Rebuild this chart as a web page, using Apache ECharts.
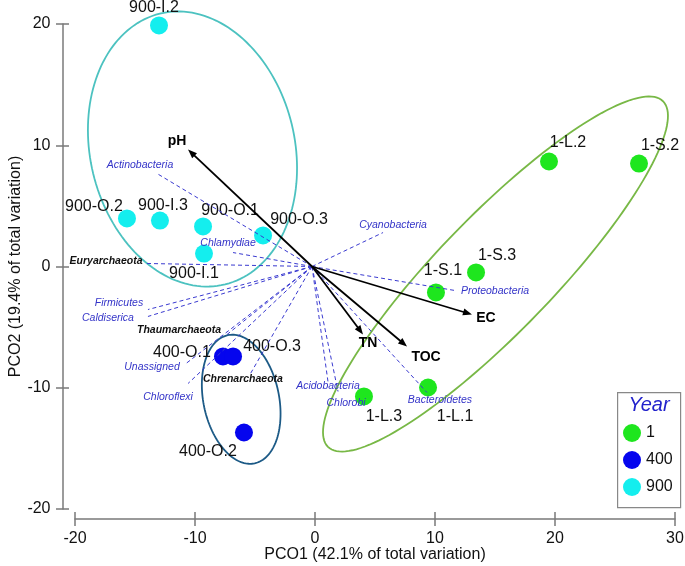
<!DOCTYPE html>
<html><head><meta charset="utf-8">
<script src="https://cdn.jsdelivr.net/npm/echarts@6/dist/echarts.min.js"></script>
<style>html,body{margin:0;padding:0;background:#fff}#c{width:685px;height:566px}</style>
</head><body><div id="c"></div>
<script>
// ---------- data ----------
const year1Names = ['1-S.1','1-S.2','1-S.3','1-L.1','1-L.2','1-L.3'];
const year1X = [10.08, 27.0, 13.42, 9.42, 19.5, 4.08];
const year1Y = [-2.14, 8.49, -0.49, -9.98, 8.66, -10.72];

const year400Names = ['400-O.1','400-O.2','400-O.3'];
const year400X = [-7.67, -5.92, -6.83];
const year400Y = [-7.42, -13.69, -7.42];

const year900Names = ['900-O.1','900-O.2','900-O.3','900-I.1','900-I.2','900-I.3'];
const year900X = [-9.33, -15.67, -4.33, -9.25, -13.0, -12.92];
const year900Y = [3.30, 3.96, 2.56, 1.07, 19.88, 3.79];

const vectorOrigin = [-0.25, 0];
const envNames = ['pH','EC','TN','TOC'];
const envX = [-10.58, 13.08, 4.0, 7.67];
const envY = [9.65, -3.96, -5.6, -6.6];

const taxaNames = ['Actinobacteria','Chlamydiae','Euryarchaeota','Firmicutes','Caldiserica','Thaumarchaeota','Unassigned','Chloroflexi','Chrenarchaeota','Acidobacteria','Chlorobi','Bacteroidetes','Proteobacteria','Cyanobacteria'];
const taxaX = [-13.17, -6.83, -14.08, -13.92, -13.92, -7.33, -10.75, -10.58, -5.42, 1.08, 1.92, 9.33, 11.67, 5.67];
const taxaY = [7.67, 1.15, 0.25, -3.55, -4.12, -5.61, -8.0, -9.65, -8.91, -9.48, -10.31, -10.39, -1.98, 2.80];
const archaeaTaxa = ['Euryarchaeota','Thaumarchaeota','Chrenarchaeota'];

// group ellipses (centre, semi-axes in data units, angle in degrees)
const ellipseYears = ['1','400','900'];
const ellipseCX = [15.04, -6.15, -10.21];
const ellipseCY = [-0.62, -10.95, 9.69];
const ellipseA = [19.95, 5.4, 11.49];
const ellipseB = [4.8, 3.15, 8.52];
const ellipseAngle = [45.6, 102, 103.7];

const xAxisMin = -20, xAxisMax = 30, xAxisStep = 10;
const yAxisMin = -20, yAxisMax = 20, yAxisStep = 10;

// ---------- layout / styles ----------
const FONT = '"Liberation Sans", Arial, sans-serif';
const groupColors = {'1':'#1ee61e','400':'#0505ee','900':'#14eeee'};
const ellipseColors = {'1':'#78b846','400':'#1c5a86','900':'#4cc2c0'};
const pointLabelOffset = {
  '900-I.2':[-5,-18], '900-O.2':[-33,-12], '900-I.3':[3,-15], '900-O.1':[27,-16],
  '900-O.3':[36,-16], '900-I.1':[-10,20],
  '400-O.1':[-41,-4], '400-O.3':[39,-10], '400-O.2':[-36,19],
  '1-S.1':[7,-22], '1-S.3':[21,-17], '1-L.2':[19,-19], '1-S.2':[21,-18],
  '1-L.3':[20,20], '1-L.1':[27,29]
};
const envLabelOffset = {'pH':[-11,-8],'EC':[14,4],'TN':[5,9],'TOC':[19,11]};
const taxaLabelOffset = {
  'Actinobacteria':[-17,-8],'Chlamydiae':[-5,-9],'Euryarchaeota':[-40,-2],'Firmicutes':[-29,-6],
  'Caldiserica':[-40,2],'Thaumarchaeota':[-48,-4],'Unassigned':[-34,4],'Chloroflexi':[-20,14],
  'Chrenarchaeota':[-7,5],'Acidobacteria':[0,5],'Chlorobi':[8,12],'Bacteroidetes':[13,8],
  'Proteobacteria':[40,1],'Cyanobacteria':[10,-7]
};

function groupData(names, xs, ys){
  return names.map((n,i)=>({name:n, value:[xs[i], ys[i]],
    label:{offset: pointLabelOffset[n] || [0,-16]}}));
}
function scatterSeries(year, names, xs, ys){
  return {
    type:'scatter', name:year, z:2, symbol:'circle', symbolSize:18,
    itemStyle:{color:groupColors[year], opacity:1},
    label:{show:true, position:'inside', formatter:'{b}', color:'#111', fontSize:16, fontFamily:FONT},
    emphasis:{disabled:true},
    data: groupData(names, xs, ys)
  };
}

const axisGray = '#7a7a7a';
function mkX(main){
  return {type:'value', min:xAxisMin, max:xAxisMax, interval:xAxisStep, position:'bottom', offset:10,
    axisLine:{show:main, onZero:false, lineStyle:{color:axisGray, width:1.5}},
    axisTick:{show:true, inside:!main, length:7, lineStyle:{color:axisGray, width:1.5}},
    axisLabel:{show:main, fontSize:16, color:'#111', margin:12, fontFamily:FONT},
    splitLine:{show:false},
    name: main ? 'PCO1 (42.1% of total variation)' : '', nameLocation:'middle', nameGap:28,
    nameMoveOverlap:false,
    nameTextStyle:{fontSize:16, color:'#111', fontFamily:FONT}};
}
function mkY(main){
  return {type:'value', min:yAxisMin, max:yAxisMax, interval:yAxisStep, position:'left', offset:12.5,
    axisLine:{show:main, onZero:false, lineStyle:{color:axisGray, width:1.5}},
    axisTick:{show:true, inside:!main, length:6.5, lineStyle:{color:axisGray, width:1.5}},
    axisLabel:{show:main, fontSize:16, color:'#111', margin:12, fontFamily:FONT},
    splitLine:{show:false},
    name: main ? 'PCO2 (19.4% of total variation)' : '', nameLocation:'middle', nameGap:39,
    nameMoveOverlap:false,
    nameTextStyle:{fontSize:16, color:'#111', fontFamily:FONT}};
}

const chart = echarts.init(document.getElementById('c'), null, {renderer:'canvas'});
chart.setOption({
  animation:false,
  backgroundColor:'#fff',
  grid:{left:75, right:10, top:24, bottom:57, containLabel:false, outerBoundsMode:'none'},
  xAxis:[mkX(true), mkX(false)],
  yAxis:[mkY(true), mkY(false)],
  legend:{
    orient:'vertical', left:623, top:424, padding:0, itemWidth:18, itemHeight:18, itemGap:9,
    icon:'circle', data:['1','400','900'],
    textStyle:{fontSize:16, color:'#111', fontFamily:FONT}
  },
  graphic:[
    {type:'rect', left:617, top:392, shape:{width:63, height:115}, style:{fill:'#fff', stroke:'#888', lineWidth:1.2}, z:-1},
    {type:'text', x:649, y:405, style:{text:'Year', font:'italic 20px ' + FONT, fill:'#2222cc', align:'center', verticalAlign:'middle'}, z:10}
  ],
  series:[
    {
      type:'custom', coordinateSystem:'cartesian2d', z:1, silent:true,
      data: ellipseYears.map((y,i)=>[ellipseCX[i], ellipseCY[i], ellipseA[i], ellipseB[i], ellipseAngle[i]]),
      renderItem(params, api){
        const cx=api.value(0), cy=api.value(1), a=api.value(2), b=api.value(3), th=api.value(4)*Math.PI/180;
        const pts=[];
        for(let k=0;k<=160;k++){
          const t=k/160*2*Math.PI, ux=a*Math.cos(t), uy=b*Math.sin(t);
          pts.push(api.coord([cx+ux*Math.cos(th)-uy*Math.sin(th), cy+ux*Math.sin(th)+uy*Math.cos(th)]));
        }
        return {type:'polygon', shape:{points:pts},
          style:{fill:'none', stroke:ellipseColors[ellipseYears[params.dataIndex]], lineWidth:1.8}};
      }
    },
    scatterSeries('1', year1Names, year1X, year1Y),
    scatterSeries('400', year400Names, year400X, year400Y),
    scatterSeries('900', year900Names, year900X, year900Y),
    {
      type:'custom', coordinateSystem:'cartesian2d', z:3, silent:true,
      data: taxaNames.map((n,i)=>[vectorOrigin[0], vectorOrigin[1], taxaX[i], taxaY[i]]),
      renderItem(params, api){
        const o=api.coord([api.value(0), api.value(1)]);
        const e=api.coord([api.value(2), api.value(3)]);
        const name=taxaNames[params.dataIndex];
        const off=taxaLabelOffset[name];
        const arch=archaeaTaxa.indexOf(name)>=0;
        return {type:'group', children:[
          {type:'line', shape:{x1:o[0],y1:o[1],x2:e[0],y2:e[1]},
            style:{stroke:'#3a3ad0', lineWidth:1, lineDash:[4,3]}},
          {type:'text', x:e[0]+off[0], y:e[1]+off[1],
            style:{text:name, font:(arch?'italic bold ':'italic ')+'10.5px '+FONT,
              fill: arch ? '#111' : '#3434c8', align:'center', verticalAlign:'middle'}}
        ]};
      }
    },
    {
      type:'custom', coordinateSystem:'cartesian2d', z:4, silent:true,
      data: envNames.map((n,i)=>[vectorOrigin[0], vectorOrigin[1], envX[i], envY[i]]),
      renderItem(params, api){
        const o=api.coord([api.value(0), api.value(1)]);
        const e=api.coord([api.value(2), api.value(3)]);
        const ang=Math.atan2(e[1]-o[1], e[0]-o[0]);
        const L=9, W=3.5;
        const bx=e[0]-L*Math.cos(ang), by=e[1]-L*Math.sin(ang);
        const p1=[bx+W*Math.sin(ang), by-W*Math.cos(ang)];
        const p2=[bx-W*Math.sin(ang), by+W*Math.cos(ang)];
        const name=envNames[params.dataIndex];
        const off=envLabelOffset[name];
        return {type:'group', children:[
          {type:'line', shape:{x1:o[0],y1:o[1],x2:bx+2*Math.cos(ang),y2:by+2*Math.sin(ang)}, style:{stroke:'#000', lineWidth:1.8}},
          {type:'polygon', shape:{points:[e,p1,p2]}, style:{fill:'#000'}},
          {type:'text', x:e[0]+off[0], y:e[1]+off[1],
            style:{text:name, font:'bold 14px '+FONT, fill:'#000', align:'center', verticalAlign:'middle'}}
        ]};
      }
    }
  ]
});
</script></body></html>
